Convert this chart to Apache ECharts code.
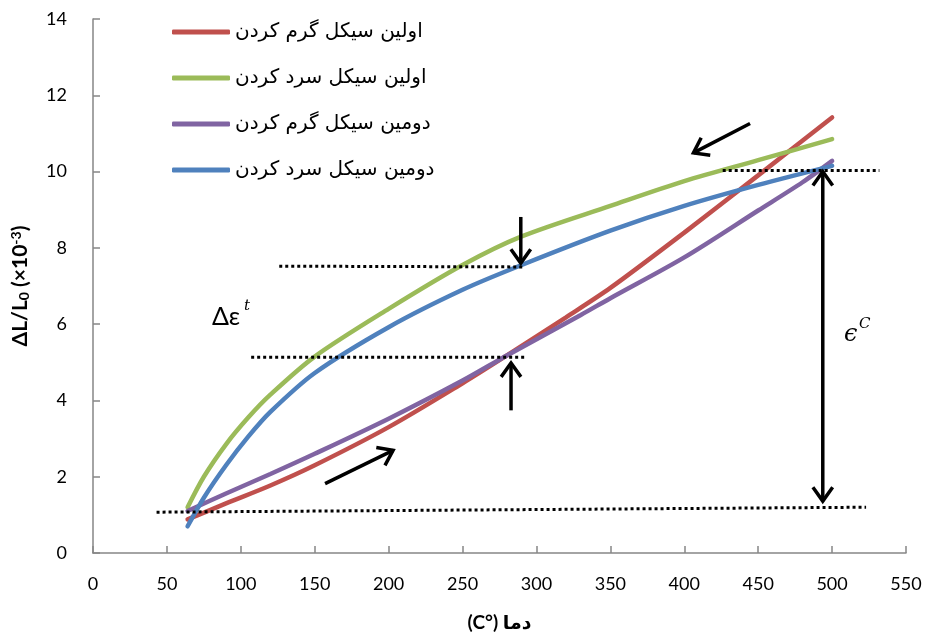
<!DOCTYPE html>
<html><head><meta charset="utf-8">
<script src="https://cdn.jsdelivr.net/npm/echarts@6/dist/echarts.min.js"></script>
<style>html,body{margin:0;padding:0;background:#fff}#c{width:933px;height:638px}</style>
</head><body><div id="c"></div>
<script>
// ---- data ----
const seriesNames = ['اولین سیکل گرم کردن', 'اولین سیکل سرد کردن', 'دومین سیکل گرم کردن', 'دومین سیکل سرد کردن'];
const heat1X = [64, 90, 120, 150, 200, 250, 280, 320, 350, 400, 450, 500];
const heat1Y = [0.88, 1.3, 1.77, 2.3, 3.3, 4.45, 5.18, 6.18, 6.95, 8.4, 9.9, 11.42];
const cool1X = [64, 75, 90, 105, 120, 150, 200, 250, 290, 350, 400, 450, 500];
const cool1Y = [1.2, 2.0, 2.85, 3.55, 4.15, 5.15, 6.4, 7.55, 8.3, 9.1, 9.75, 10.3, 10.85];
const heat2X = [64, 90, 120, 150, 200, 250, 280, 330, 350, 400, 450, 480, 500];
const heat2Y = [1.1, 1.56, 2.07, 2.6, 3.52, 4.52, 5.18, 6.24, 6.68, 7.75, 8.98, 9.72, 10.28];
const cool2X = [64, 75, 90, 105, 120, 150, 200, 250, 290, 350, 400, 450, 500];
const cool2Y = [0.7, 1.45, 2.3, 3.05, 3.7, 4.72, 5.92, 6.9, 7.55, 8.45, 9.1, 9.65, 10.15];
const xTickValues = [0, 50, 100, 150, 200, 250, 300, 350, 400, 450, 500, 550];
const yTickValues = [0, 2, 4, 6, 8, 10, 12, 14];
const xAxisTitle = '(C°) دما';
// dotted guide lines: x1, y1, x2, y2
const dottedLines = [[43, 1.07, 523, 1.2], [107, 5.13, 292, 5.13], [126, 7.52, 292, 7.5], [426, 10.03, 532, 10.03]];
// arrows: x1, y1, x2 (tip), y2 (tip), heads (1 single, 2 double)
const arrows = [[444.5, 11.26, 406.2, 10.49, 1], [157, 1.82, 203, 2.69, 1], [289.4, 8.81, 289.4, 7.6, 1], [282.8, 3.74, 282.8, 4.98, 1], [493.7, 1.36, 493.7, 10.0, 2]];
// annotation texts: anchor x, y
const annoX = [80.5, 508];
const annoY = [6.2, 5.73];
const annoMain = ['Δε', 'ϵ'];
const annoSup = ['t', 'C'];

const colors = ['#C0504D', '#9BBB59', '#8064A2', '#4F81BD'];
const zip = (xs, ys) => xs.map((x, i) => [x, ys[i]]);
const seriesData = [zip(heat1X, heat1Y), zip(cool1X, cool1Y), zip(heat2X, heat2Y), zip(cool2X, cool2Y)];

const chart = echarts.init(document.getElementById('c'), null, {renderer: 'canvas'});

function renderDotted(params, api) {
  const p1 = api.coord([api.value(0), api.value(1)]);
  const p2 = api.coord([api.value(2), api.value(3)]);
  return {type: 'line', shape: {x1: p1[0], y1: p1[1], x2: p2[0], y2: p2[1]},
    style: {stroke: '#000', lineWidth: 3, lineDash: [3, 3], lineCap: 'butt'}};
}
function head(tip, from) {
  const ang = Math.atan2(tip[1] - from[1], tip[0] - from[0]);
  const L = 17, a = 0.62;
  return {type: 'polyline', shape: {points: [
    [tip[0] - L * Math.cos(ang - a), tip[1] - L * Math.sin(ang - a)], tip,
    [tip[0] - L * Math.cos(ang + a), tip[1] - L * Math.sin(ang + a)]]},
    style: {stroke: '#000', lineWidth: 3.5, fill: null, lineJoin: 'miter'}};
}
function renderArrow(params, api) {
  const p1 = api.coord([api.value(0), api.value(1)]);
  const p2 = api.coord([api.value(2), api.value(3)]);
  const children = [{type: 'line', shape: {x1: p1[0], y1: p1[1], x2: p2[0], y2: p2[1]}, style: {stroke: '#000', lineWidth: 3.5}}];
  children.push(head(p2, p1));
  if (api.value(4) === 2) children.push(head(p1, p2));
  return {type: 'group', children};
}
function renderText(params, api) {
  const i = params.dataIndex;
  const p = api.coord([api.value(0), api.value(1)]);
  const isEps = i === 1;
  return {type: 'group', children: [
    {type: 'text', x: p[0], y: p[1], style: {text: annoMain[i], fill: '#000',
      font: isEps ? 'italic 24px "DejaVu Serif"' : '25px Lato', textAlign: 'left', textVerticalAlign: 'middle'}},
    {type: 'text', x: p[0] + (isEps ? 15 : 32), y: p[1] - 10, style: {text: annoSup[i], fill: '#000',
      font: 'italic 15px "DejaVu Serif"', textAlign: 'left', textVerticalAlign: 'middle'}}
  ]};
}

const lineSeries = seriesNames.map((n, i) => ({
  name: n, type: 'line', data: seriesData[i], smooth: 0.3, showSymbol: false, symbol: 'none',
  lineStyle: {color: colors[i], width: 4.5, cap: 'round'}, itemStyle: {color: colors[i]}, z: 3
}));

chart.setOption({
  animation: false,
  backgroundColor: '#fff',
  grid: {left: 93, right: 27, top: 19, bottom: 85, containLabel: false},
  legend: {
    orient: 'vertical', left: 167, top: 17, itemGap: 26, itemWidth: 58, itemHeight: 5, icon: 'roundRect',
    data: seriesNames, textStyle: {fontFamily: '"DejaVu Sans"', fontSize: 20, color: '#000'}
  },
  xAxis: {
    type: 'value', min: 0, max: 550, interval: 50,
    name: xAxisTitle, nameLocation: 'middle', nameGap: 60,
    nameTextStyle: {fontFamily: 'Lato, "DejaVu Sans"', fontWeight: 'bold', fontSize: 19, color: '#000'},
    axisLine: {show: true, lineStyle: {color: '#868686', width: 1.5}},
    axisTick: {show: true, inside: true, length: 7, lineStyle: {color: '#868686', width: 1.5}},
    axisLabel: {fontFamily: 'Lato', fontSize: 18, color: '#000', margin: 22},
    splitLine: {show: false}
  },
  yAxis: {
    type: 'value', min: 0, max: 14, interval: 2,
    name: '{b|ΔL/L}{s|0}{b| (×10}{p|-3}{b|)}', nameLocation: 'middle', nameGap: 62, nameRotate: 90,
    nameTextStyle: {rich: {
      b: {fontFamily: 'Lato', fontWeight: 'bold', fontSize: 21, color: '#000'},
      s: {fontFamily: 'Lato', fontWeight: 'bold', fontSize: 14, color: '#000', verticalAlign: 'bottom', padding: [8, 0, 0, 0]},
      p: {fontFamily: 'Lato', fontWeight: 'bold', fontSize: 14, color: '#000', verticalAlign: 'top', padding: [0, 0, 8, 0]}
    }},
    axisLine: {show: true, lineStyle: {color: '#868686', width: 1.5}},
    axisTick: {show: true, inside: true, length: 7, lineStyle: {color: '#868686', width: 1.5}},
    axisLabel: {fontFamily: 'Lato', fontSize: 18, color: '#000', margin: 26},
    splitLine: {show: false}
  },
  series: lineSeries.concat([
    {type: 'custom', name: 'dotted', renderItem: renderDotted, data: dottedLines, silent: true, z: 4, clip: false,
      encode: {x: [0, 2], y: [1, 3]}},
    {type: 'custom', name: 'arrows', renderItem: renderArrow, data: arrows, silent: true, z: 5, clip: false,
      encode: {x: [0, 2], y: [1, 3]}},
    {type: 'custom', name: 'texts', renderItem: renderText, data: zip(annoX, annoY), silent: true, z: 5, clip: false,
      encode: {x: 0, y: 1}}
  ])
});
</script>
</body></html>
